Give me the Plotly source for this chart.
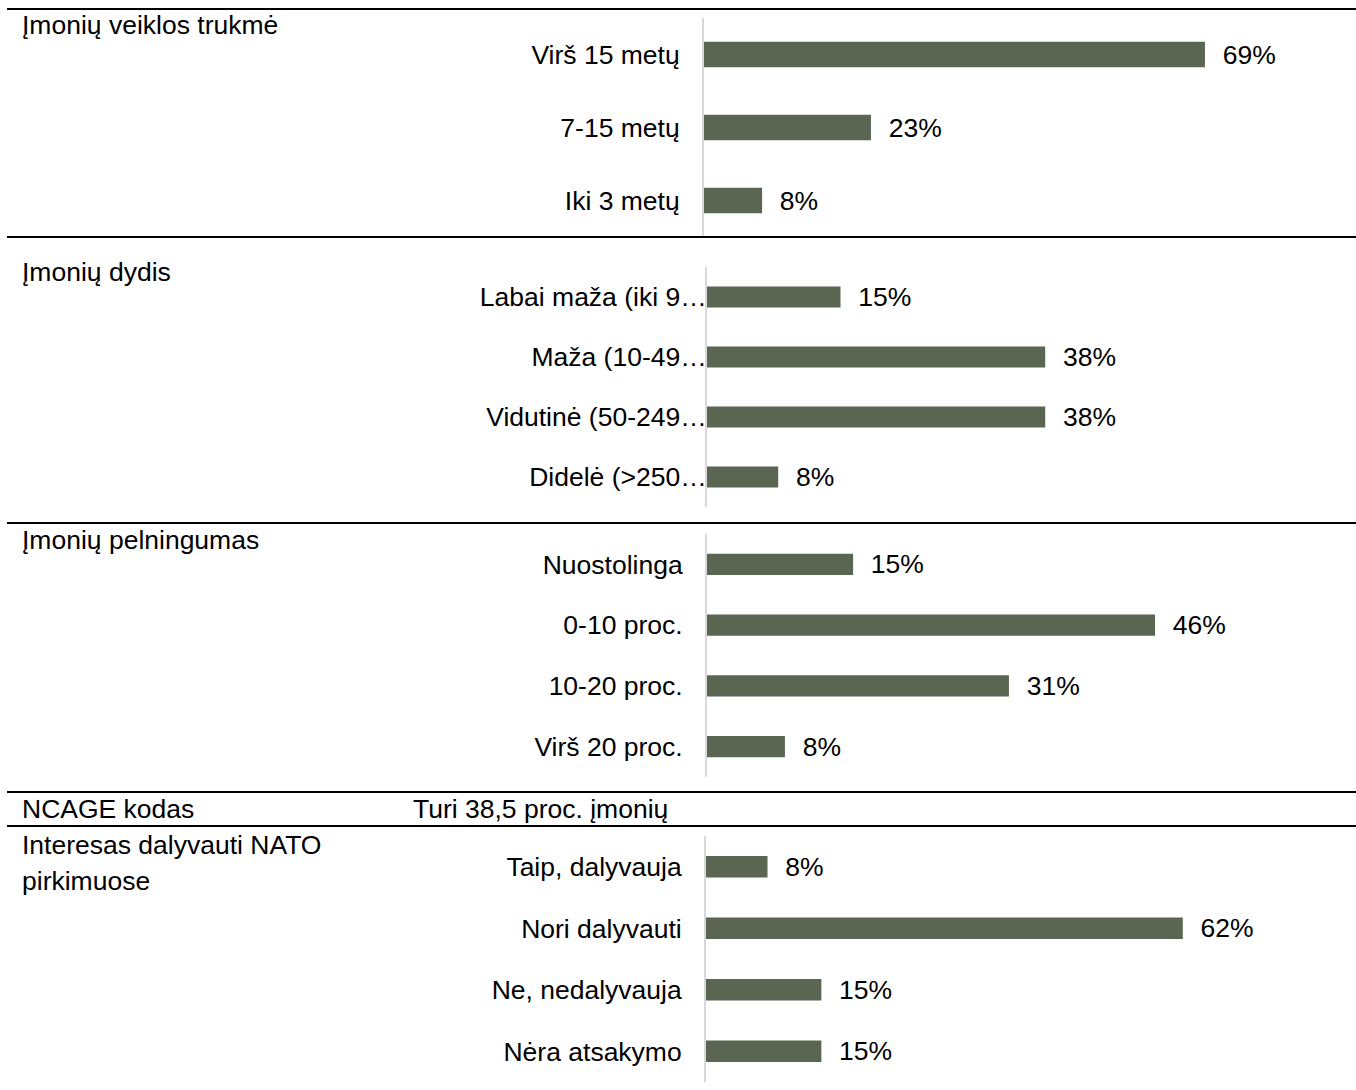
import plotly.graph_objects as go

# ---- data ----
heading_1 = "Įmonių veiklos trukmė"
cats_1 = ["Virš 15 metų", "7-15 metų", "Iki 3 metų"]
vals_1 = [69, 23, 8]

heading_2 = "Įmonių dydis"
cats_2 = ["Labai maža (iki 9…", "Maža (10-49…", "Vidutinė (50-249…", "Didelė (>250…"]
vals_2 = [15, 38, 38, 8]

heading_3 = "Įmonių pelningumas"
cats_3 = ["Nuostolinga", "0-10 proc.", "10-20 proc.", "Virš 20 proc."]
vals_3 = [15, 46, 31, 8]

heading_4 = "NCAGE kodas"
text_4 = "Turi 38,5 proc. įmonių"

heading_5_lines = ["Interesas dalyvauti NATO", "pirkimuose"]
cats_5 = ["Taip, dalyvauja", "Nori dalyvauti", "Ne, nedalyvauja", "Nėra atsakymo"]
vals_5 = [8, 62, 15, 15]

# ---- layout helpers ----
W, H = 1356, 1090
FONT = "Liberation Sans, Arial, sans-serif"
BAR = "#5b6652"
FS = 26.5

def fx(px):
    return px / W

def fy(py):
    return 1 - py / H

panels = [
    # cats, vals, axis x px, y top px, y bottom px, px per unit, standoff
    (cats_1, vals_1, 704, 18, 237, 7.26, 17),
    (cats_2, vals_2, 707, 267, 507, 8.90, -7),
    (cats_3, vals_3, 707, 534, 777, 9.74, 17),
    (cats_5, vals_5, 706, 836, 1082, 7.69, 17),
]

fig = go.Figure()
layout = dict(
    width=W, height=H,
    margin=dict(l=0, r=0, t=0, b=0),
    paper_bgcolor="white", plot_bgcolor="white",
    showlegend=False,
    font=dict(family=FONT, size=FS, color="black"),
    bargap=0.65,
)
RIGHT = 1340
for i, (cats, vals, x0, ytop, ybot, scale, standoff) in enumerate(panels, start=1):
    xa = "x" if i == 1 else f"x{i}"
    ya = "y" if i == 1 else f"y{i}"
    fig.add_trace(go.Bar(
        y=cats, x=vals, orientation="h",
        marker=dict(color=BAR, line=dict(width=0)),
        text=[f"\u00a0\u00a0{v}%" for v in vals],
        textposition="outside", cliponaxis=False, constraintext="none",
        textfont=dict(size=FS, color="black", family=FONT),
        xaxis=xa, yaxis=ya, hoverinfo="skip",
    ))
    xkey = "xaxis" if i == 1 else f"xaxis{i}"
    ykey = "yaxis" if i == 1 else f"yaxis{i}"
    layout[xkey] = dict(
        domain=[fx(x0), fx(RIGHT)],
        range=[0, (RIGHT - x0) / scale],
        visible=False, anchor=ya,
    )
    layout[ykey] = dict(
        domain=[fy(ybot), fy(ytop)],
        anchor=xa,
        type="category",
        categoryorder="array", categoryarray=cats,
        autorange="reversed",
        showline=True, linecolor="#d9d9d9", linewidth=2,
        showgrid=False, zeroline=False, ticks="",
        ticklabelstandoff=standoff,
        tickfont=dict(size=FS, color="black", family=FONT),
    )

fig.update_layout(**layout)

# separator lines
for py in [9, 237, 523, 792, 826]:
    fig.add_shape(type="line", xref="paper", yref="paper",
                  x0=fx(7), x1=1, y0=fy(py), y1=fy(py),
                  line=dict(color="black", width=2))

# headings
heads = [(heading_1, 25), (heading_2, 272), (heading_3, 540), (heading_4, 809),
         (heading_5_lines[0], 845), (heading_5_lines[1], 881)]
for txt, py in heads:
    fig.add_annotation(text=txt, xref="paper", yref="paper", x=fx(20), y=fy(py),
                       xanchor="left", yanchor="middle", showarrow=False,
                       font=dict(size=FS, color="black", family=FONT))
fig.add_annotation(text=text_4, xref="paper", yref="paper", x=fx(670), y=fy(809),
                   xanchor="right", yanchor="middle", showarrow=False,
                   font=dict(size=FS, color="black", family=FONT))

fig.write_html("out.html", config={"displayModeBar": False},
               post_script="document.body.style.margin='0';")
